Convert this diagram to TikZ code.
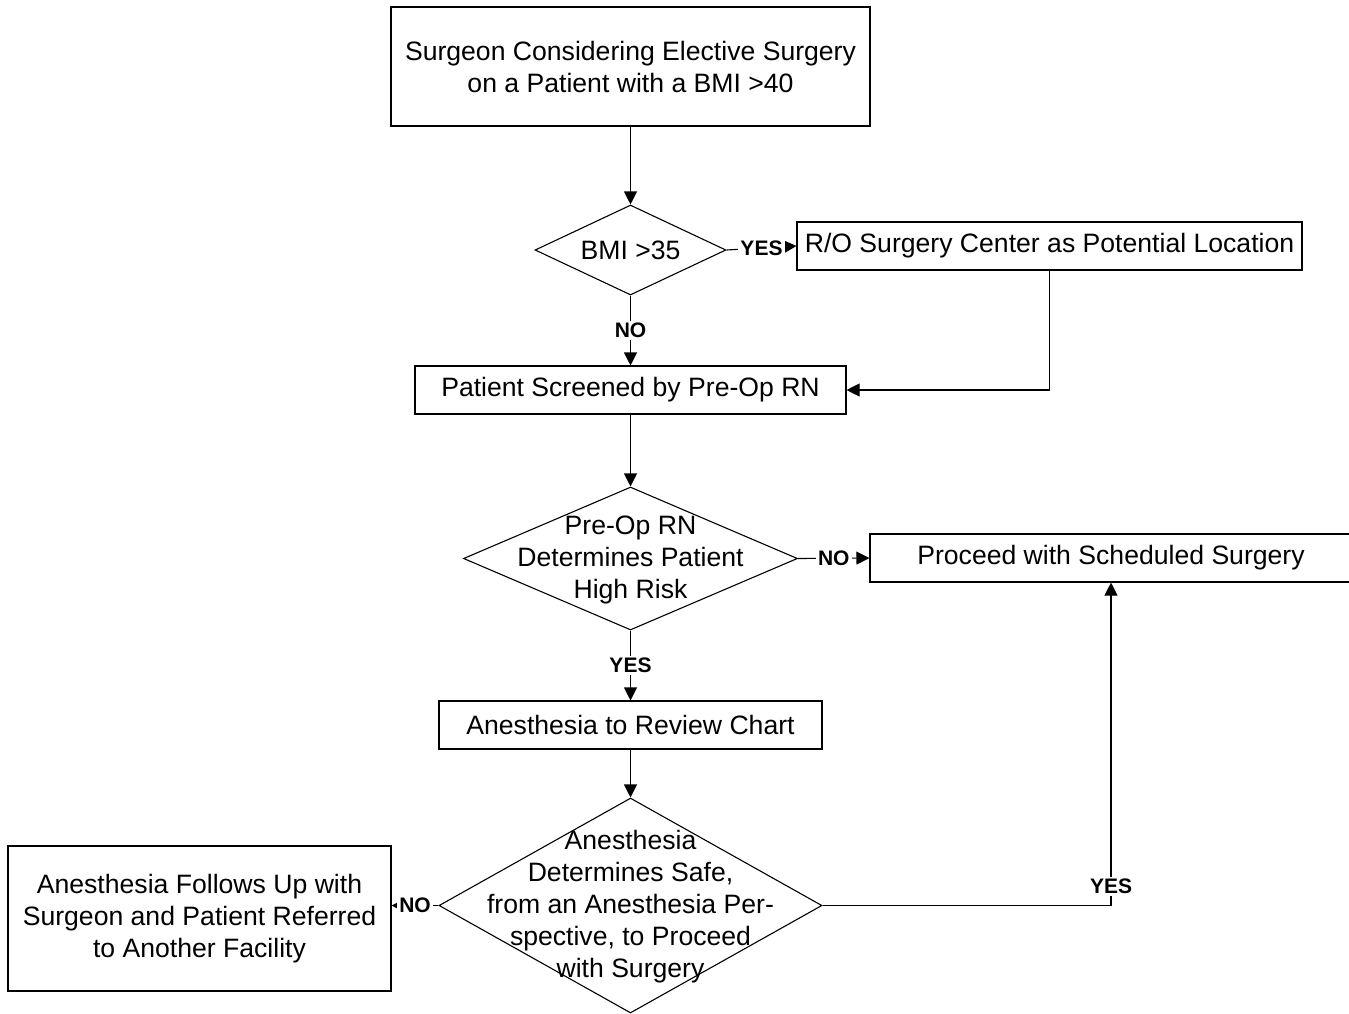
\documentclass[tikz,border=0pt]{standalone}
\usepackage{fontspec}
\setmainfont{Liberation Sans}
\usetikzlibrary{shapes.geometric,arrows.meta}
\begin{document}
\begin{tikzpicture}[x=0.5pt,y=-0.5pt,line width=0.55pt,>={Triangle[length=6.5pt,width=6.5pt]}]
\tikzstyle{every node}=[font=\fontsize{13.3}{16}\selectfont, align=center];
\tikzstyle{box}=[draw, inner sep=0pt, minimum height=24pt];
\tikzstyle{decision}=[draw, diamond, inner sep=0pt];
\tikzstyle{lbl}=[font=\fontsize{10.5}{12}\selectfont\bfseries, fill=white, inner sep=1pt];

\useasboundingbox (0,0) rectangle (1349,1013);

  \node[box, minimum width=239.5pt, minimum height=59.5pt] (start) at (630.5,66.5) {Surgeon Considering Elective Surgery\\on a Patient with a BMI >40};
  \node[decision, minimum width=95.5pt, minimum height=45pt] (bmi) at (630.5,250) {};
  \node (bmitxt) at (bmi) {BMI >35};
  \node[box, minimum width=252.5pt] (ro) at (1049.5,246) {R/O Surgery Center as Potential Location};
  \node[box, minimum width=215.5pt] (screen) at (630.5,390) {Patient Screened by Pre-Op RN};
  \node[decision, minimum width=167pt, minimum height=71.5pt] (risk) at (630.5,558.5) {};
  \node (risktxt) at (630.5,560) {Pre-Op RN\\Determines Patient\\High Risk};
  \node[box, minimum width=241pt] (proceed) at (1111,558) {Proceed with Scheduled Surgery};
  \node[box, minimum width=191.5pt] (review) at (630.5,725) {Anesthesia to Review Chart};
  \node[decision, minimum width=191.5pt, minimum height=107.5pt] (safe) at (630.5,905.5) {};
  \node (safetxt) at (630.5,906.5) {Anesthesia\\Determines Safe,\\from an Anesthesia Per-\\spective, to Proceed\\with Surgery};
  \node[box, minimum width=191.5pt, minimum height=72.5pt] (refer) at (199.5,918.5) {Anesthesia Follows Up with\\Surgeon and Patient Referred\\to Another Facility};

  \foreach \from/\to in {start/bmi, screen/risk, review/safe}
\draw [->] (\from) -- (\to);

   \draw [->] (bmi.east) -- node[lbl] {YES} (ro.west);
   \draw [->] (bmi.south) -- node[lbl] {NO} (screen.north);
   \draw [->] (ro.south) |- (screen.east);
   \draw [->] (risk.east) -- node[lbl] {NO} (proceed.west);
   \draw [->] (risk.south) -- node[lbl] {YES} (review.north);
   \draw [->] (safe.east) -| node[lbl, pos=0.53] {YES} (proceed.south);
   \draw [->] (safe.west) -- node[lbl] {NO} (safe.west -| refer.east);

\end{tikzpicture}
\end{document}
